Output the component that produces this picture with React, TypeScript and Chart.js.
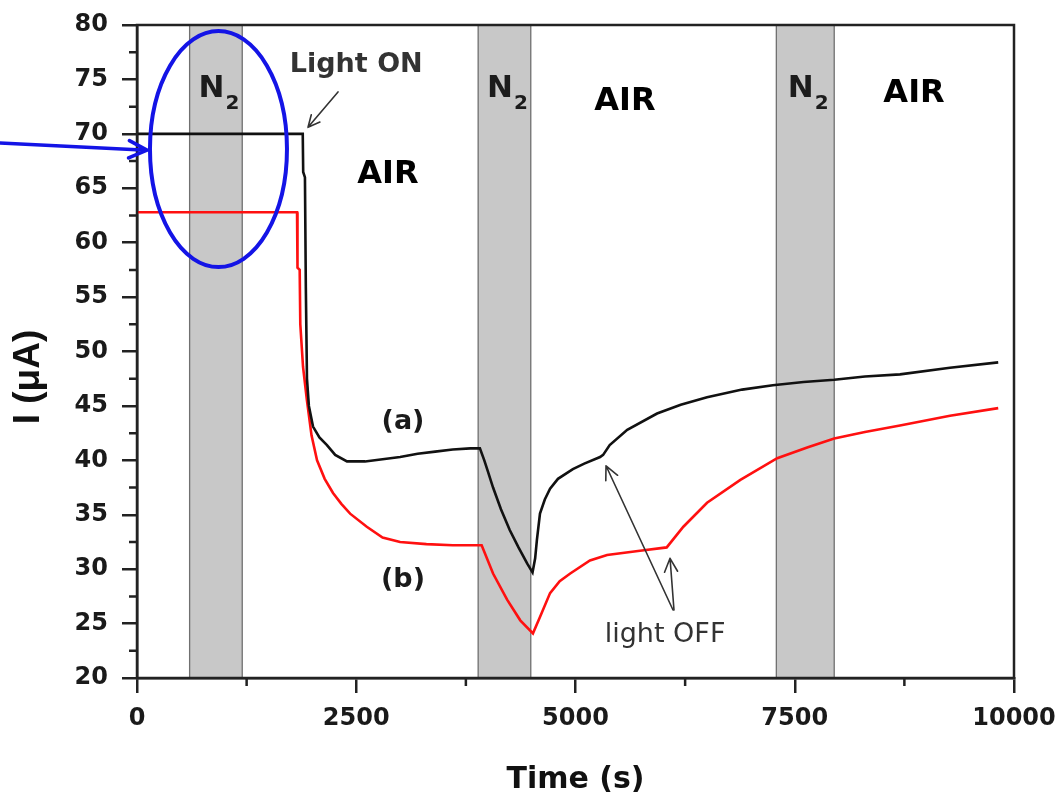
import React, { useEffect, useRef } from 'react';
import { Chart, registerables } from 'chart.js';

Chart.register(...registerables);

// ---- data ----
const timeA = [0, 1890, 1895, 1915, 1925, 1938, 1960, 2007, 2080, 2166, 2260, 2394, 2600, 2800, 3000, 3200, 3400, 3600, 3800, 3910, 3960, 4000, 4060, 4150, 4250, 4350, 4450, 4510, 4540, 4560, 4595, 4650, 4710, 4800, 4970, 5100, 5280, 5315, 5390, 5590, 5930, 6200, 6500, 6900, 7250, 7600, 7950, 8300, 8700, 9270, 9820];
const currentA = [70, 70, 66.5, 66, 56, 47.5, 45, 43.1, 42.1, 41.4, 40.5, 39.9, 39.9, 40.1, 40.3, 40.6, 40.8, 41.0, 41.1, 41.1, 40.0, 39.0, 37.5, 35.5, 33.6, 32.0, 30.5, 29.7, 31.0, 32.7, 35.1, 36.4, 37.4, 38.3, 39.2, 39.7, 40.3, 40.5, 41.4, 42.8, 44.3, 45.1, 45.8, 46.5, 46.9, 47.2, 47.4, 47.7, 47.9, 48.5, 49.0];

const timeB = [0, 1825, 1830, 1855, 1862, 1893, 1938, 1990, 2053, 2140, 2235, 2330, 2430, 2620, 2800, 3000, 3300, 3600, 3930, 4060, 4220, 4370, 4515, 4595, 4710, 4820, 4940, 5165, 5360, 5735, 6040, 6230, 6500, 6880, 7300, 7650, 7950, 8300, 8700, 9270, 9820];
const currentB = [62.8, 62.8, 57.7, 57.5, 52.5, 48.6, 45.5, 42.3, 40.0, 38.3, 37.0, 36.0, 35.1, 33.9, 32.9, 32.5, 32.3, 32.2, 32.2, 29.6, 27.2, 25.3, 24.1, 25.6, 27.8, 28.9, 29.6, 30.8, 31.3, 31.7, 32.0, 33.9, 36.1, 38.2, 40.2, 41.2, 42.0, 42.6, 43.2, 44.1, 44.8];

const n2Start = [600, 3890, 7290];
const n2End = [1200, 4490, 7950];

const xMin = 0;
const xMax = 10000;
const xStep = 2500;
const yMin = 20;
const yMax = 80;
const yStep = 5;

const airLabels = ['AIR', 'AIR', 'AIR'];
const curveLabels = ['(a)', '(b)'];

const TICK_FONT = 'bold 24px "DejaVu Sans"';
const MAJOR_TICK = 15;
const MINOR_TICK = 8;

function arrow(ctx: CanvasRenderingContext2D, x1: number, y1: number, x2: number, y2: number, head: number, color: string, lw: number) {
  ctx.save();
  ctx.strokeStyle = color;
  ctx.lineWidth = lw;
  ctx.lineCap = 'round';
  ctx.beginPath();
  ctx.moveTo(x1, y1);
  ctx.lineTo(x2, y2);
  const ang = Math.atan2(y2 - y1, x2 - x1);
  for (const s of [-1, 1]) {
    ctx.moveTo(x2, y2);
    ctx.lineTo(x2 - head * Math.cos(ang + s * 0.45), y2 - head * Math.sin(ang + s * 0.45));
  }
  ctx.stroke();
  ctx.restore();
}

const decor = {
  id: 'decor',
  beforeDatasetsDraw(chart: any) {
    const { ctx, chartArea: a, scales } = chart;
    const x = scales.x;
    ctx.save();
    for (let i = 0; i < n2Start.length; i++) {
      const x1 = x.getPixelForValue(n2Start[i]);
      const x2 = x.getPixelForValue(n2End[i]);
      ctx.fillStyle = '#c8c8c8';
      ctx.fillRect(x1, a.top, x2 - x1, a.bottom - a.top);
      ctx.strokeStyle = '#707070';
      ctx.lineWidth = 1.3;
      ctx.beginPath();
      ctx.moveTo(x1, a.top);
      ctx.lineTo(x1, a.bottom);
      ctx.moveTo(x2, a.top);
      ctx.lineTo(x2, a.bottom);
      ctx.stroke();
    }
    ctx.restore();
  },
  afterDatasetsDraw(chart: any) {
    const { ctx, chartArea: a, scales } = chart;
    const x = scales.x;
    const y = scales.y;
    const px = (v: number) => x.getPixelForValue(v);
    const py = (v: number) => y.getPixelForValue(v);
    ctx.save();

    // frame
    ctx.strokeStyle = '#222';
    ctx.lineWidth = 2.5;
    ctx.strokeRect(a.left, a.top, a.right - a.left, a.bottom - a.top);

    // minor ticks
    ctx.lineWidth = 2.5;
    ctx.beginPath();
    for (let v = yMin + yStep / 2; v < yMax; v += yStep) {
      const yy = py(v);
      ctx.moveTo(a.left, yy);
      ctx.lineTo(a.left - MINOR_TICK, yy);
    }
    for (let v = xMin + xStep / 2; v < xMax; v += xStep) {
      const xx = px(v);
      ctx.moveTo(xx, a.bottom);
      ctx.lineTo(xx, a.bottom + MINOR_TICK);
    }
    ctx.stroke();

    // tick labels (from the scales' own ticks)
    ctx.fillStyle = '#1a1a1a';
    ctx.font = TICK_FONT;
    ctx.textAlign = 'right';
    ctx.textBaseline = 'middle';
    y.ticks.forEach((t: any) => ctx.fillText(String(t.value), a.left - MAJOR_TICK - 14, py(t.value)));
    ctx.textAlign = 'center';
    ctx.textBaseline = 'top';
    x.ticks.forEach((t: any) => ctx.fillText(String(t.value), px(t.value), a.bottom + MAJOR_TICK + 14));

    // N2 labels
    ctx.fillStyle = '#1c1c1c';
    ctx.textBaseline = 'alphabetic';
    for (let i = 0; i < n2Start.length; i++) {
      const cx = px((n2Start[i] + n2End[i]) / 2) + 3;
      const by = py(73.4);
      ctx.font = 'bold 31px "DejaVu Sans"';
      const wN = ctx.measureText('N').width;
      ctx.font = 'bold 20px "DejaVu Sans"';
      const w2 = ctx.measureText('2').width;
      const left = cx - (wN + w2 + 1) / 2;
      ctx.font = 'bold 31px "DejaVu Sans"';
      ctx.textAlign = 'left';
      ctx.fillText('N', left, by);
      ctx.font = 'bold 20px "DejaVu Sans"';
      ctx.fillText('2', left + wN + 1, by + 12);
    }

    // AIR labels
    ctx.fillStyle = '#000';
    ctx.textAlign = 'center';
    ctx.font = 'bold 32px "DejaVu Sans"';
    const airPos = [[2862, 65.5], [5564, 72.2], [8860, 72.9]];
    airPos.forEach((p, i) => ctx.fillText(airLabels[i], px(p[0]), py(p[1])));

    // curve labels
    ctx.fillStyle = '#1a1a1a';
    ctx.font = 'bold 27px "DejaVu Sans"';
    ctx.fillText(curveLabels[0], px(3033), py(42.9));
    ctx.fillText(curveLabels[1], px(3033), py(28.4));

    // Light ON
    ctx.fillStyle = '#333';
    ctx.font = 'bold 27px "DejaVu Sans"';
    ctx.fillText('Light ON', px(2500), py(75.7));
    arrow(ctx, px(2292), py(73.85), px(1950), py(70.6), 13, '#333', 1.6);

    // light OFF
    ctx.fillStyle = '#333';
    ctx.font = '27px "DejaVu Sans"';
    ctx.fillText('light OFF', px(6021), py(23.3));
    arrow(ctx, px(6112), py(26.25), px(5348), py(39.5), 15, '#333', 1.6);
    arrow(ctx, px(6123), py(26.25), px(6078), py(31.0), 15, '#333', 1.6);

    // y-axis title
    ctx.save();
    ctx.translate(29, 377);
    ctx.rotate(-Math.PI / 2);
    ctx.fillStyle = '#111';
    ctx.font = 'bold 37px "Liberation Sans"';
    ctx.textAlign = 'center';
    ctx.textBaseline = 'middle';
    ctx.fillText('I (\u03bcA)', 0, 0);
    ctx.restore();

    // blue ellipse and arrow
    ctx.strokeStyle = '#1414e6';
    ctx.lineWidth = 4;
    ctx.beginPath();
    ctx.ellipse(px(929), py(68.6), 68.5, 118, 0, 0, Math.PI * 2);
    ctx.stroke();
    arrow(ctx, 0, py(69.16), px(114), py(68.5), 20, '#1414e6', 3.5);

    ctx.restore();
  },
};

export default function App() {
  const ref = useRef<HTMLCanvasElement>(null);
  useEffect(() => {
    if (!ref.current) return;
    const chart = new Chart(ref.current, {
      type: 'scatter',
      data: {
        datasets: [
          {
            label: '(a)',
            data: timeA.map((t, i) => ({ x: t, y: currentA[i] })),
            showLine: true,
            borderColor: '#111',
            borderWidth: 2.6,
            pointRadius: 0,
            tension: 0,
          },
          {
            label: '(b)',
            data: timeB.map((t, i) => ({ x: t, y: currentB[i] })),
            showLine: true,
            borderColor: '#ff1010',
            borderWidth: 2.6,
            pointRadius: 0,
            tension: 0,
          },
        ],
      },
      options: {
        animation: false,
        responsive: true,
        maintainAspectRatio: false,
        layout: { padding: { top: 25, right: 46, left: 0, bottom: 0 } },
        plugins: { legend: { display: false }, tooltip: { enabled: false } },
        scales: {
          x: {
            type: 'linear',
            min: xMin,
            max: xMax,
            afterFit: (s: any) => { s.height = 122; },
            ticks: { stepSize: xStep, display: false, autoSkip: false },
            grid: { display: true, drawOnChartArea: false, drawTicks: true, tickLength: MAJOR_TICK, color: '#222', lineWidth: 2.5 },
            border: { display: true, color: '#222', width: 2.5 },
            title: {
              display: true,
              text: 'Time (s)',
              color: '#111',
              font: { family: 'DejaVu Sans', weight: 'bold', size: 30 },
              padding: { top: 0, bottom: 2 },
            },
          },
          y: {
            type: 'linear',
            min: yMin,
            max: yMax,
            afterFit: (s: any) => { s.width = 137; },
            ticks: { stepSize: yStep, display: false, autoSkip: false },
            grid: { display: true, drawOnChartArea: false, drawTicks: true, tickLength: MAJOR_TICK, color: '#222', lineWidth: 2.5 },
            border: { display: true, color: '#222', width: 2.5 },
          },
        },
      },
      plugins: [decor],
    } as any);
    return () => chart.destroy();
  }, []);
  return (
    <div style={{ position: 'absolute', left: 0, top: 0, width: 1060, height: 800, background: '#fff' }}>
      <canvas ref={ref} />
    </div>
  );
}
